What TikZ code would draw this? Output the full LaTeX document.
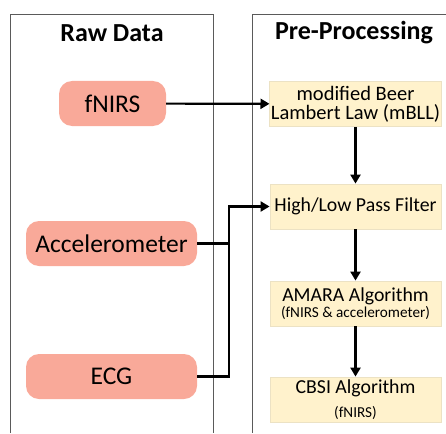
\documentclass[tikz,border=0pt]{standalone}
\usepackage{fontspec}
\setmainfont{Carlito}
\usetikzlibrary{arrows.meta}

\definecolor{rawfill}{RGB}{249,169,153}
\definecolor{stepfill}{RGB}{255,242,204}
\definecolor{stepline}{RGB}{236,226,196}
\definecolor{panelline}{RGB}{90,90,90}

\begin{document}
\begin{tikzpicture}[x=1pt,y=-1pt,
	rawbox/.style={fill=rawfill, rounded corners=13pt, minimum height=45pt,
		font=\fontsize{25.5}{28}\selectfont},
	procbox/.style={fill=stepfill, draw=stepline, line width=0.8pt, minimum width=171pt,
		minimum height=45pt, align=center, inner sep=1pt},
	title/.style={font=\bfseries\fontsize{26}{30}\selectfont},
	link/.style={line width=2.2pt},
	flow/.style={link, -{Triangle[length=9pt,width=10pt]}}]
	\useasboundingbox (0,0) rectangle (446,433);

	% panels
	\draw[panelline, line width=0.9pt] (10,433) -- (10,14) -- (213,14) -- (213,433);
	\draw[panelline, line width=0.9pt] (446,14) -- (252,14) -- (252,433);

	\node[title] (rawtitle) at (112,33) {Raw Data};
	\node[title] (pretitle) at (354,33) {Pre-Processing};

	% raw data
	\node[rawbox, minimum width=107pt] (fnirs) at (112.5,103.5) {fNIRS};
	\node[rawbox, minimum width=171pt] (acc) at (111.5,243.5) {Accelerometer};
	\node[rawbox, minimum width=171pt] (ecg) at (111.5,376.5) {ECG};

	% pre-processing
	\node[procbox, font=\fontsize{20.5}{19}\selectfont] (mbll) at (355.5,104)
		{modified Beer\\Lambert Law (mBLL)};
	\node[procbox, font=\fontsize{19.8}{22}\selectfont] (filter) at (355.5,206.5)
		{High/Low Pass Filter};
	\node[procbox, font=\fontsize{19.8}{16.5}\selectfont] (amara) at (355.5,303.5)
		{AMARA Algorithm\\{\fontsize{15.2}{16.5}\selectfont (fNIRS \& accelerometer)}};
	\node[procbox, font=\fontsize{19.8}{20.5}\selectfont] (cbsi) at (355.5,399.5)
		{CBSI Algorithm\\[4pt]{\fontsize{15.2}{20.5}\selectfont (fNIRS)}};

	\coordinate (split) at (229,243.5);

	\draw[flow] (fnirs) -- (mbll);
	\draw[flow] (mbll) -- (filter);
	\draw[flow] (filter) -- (amara);
	\draw[flow] (amara) -- (cbsi);
	\draw[link] (acc.east) -- (split);
	\draw[flow] (ecg.east) -| (split) |- (filter.west);
\end{tikzpicture}
\end{document}
